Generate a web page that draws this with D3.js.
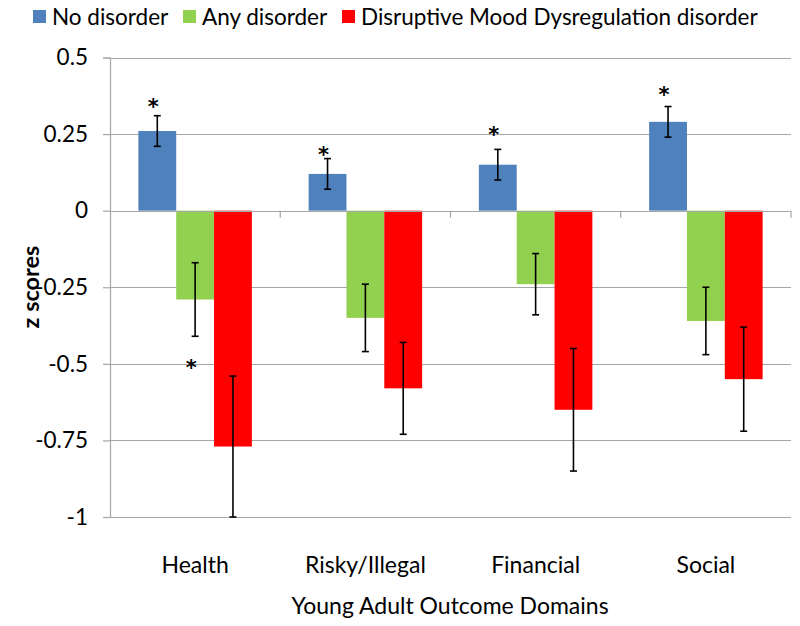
<!DOCTYPE html>
<html>
<head>
<meta charset="utf-8">
<script src="https://cdn.jsdelivr.net/npm/d3@7/dist/d3.min.js"></script>
<style>
  html, body { margin: 0; padding: 0; background: #fff; }
  svg { display: block; font-family: Lato, "Open Sans", sans-serif; }
</style>
</head>
<body>
<svg id="chart" width="800" height="626"></svg>
<script>
// ---------- data ----------
const categories = ["Health", "Risky/Illegal", "Financial", "Social"];
const seriesNames = ["No disorder", "Any disorder", "Disruptive Mood Dysregulation disorder"];
const noDisorder  = [0.26, 0.12, 0.15, 0.29];
const anyDisorder = [-0.29, -0.35, -0.24, -0.36];
const dmdd        = [-0.77, -0.58, -0.65, -0.55];
const noDisorderErr  = [0.05, 0.05, 0.05, 0.05];
const anyDisorderErr = [0.12, 0.11, 0.10, 0.11];
const dmddErr        = [0.23, 0.15, 0.20, 0.17];
const yTicks = [0.5, 0.25, 0, -0.25, -0.5, -0.75, -1];
const yTickLabels = ["0.5", "0.25", "0", "-0.25", "-0.5", "-0.75", "-1"];
// significance markers: [category, series index, y value where drawn]
const asterisks = [
  ["Health", 0, 0.356],
  ["Risky/Illegal", 0, 0.198],
  ["Financial", 0, 0.263],
  ["Social", 0, 0.394],
  ["Health", 1, -0.497]
];
const colors = ["#4F81BD", "#92D050", "#FF0000"];

// ---------- layout ----------
const svg = d3.select("#chart");
const pLeft = 110, pRight = 791, pTop = 57.5, pBottom = 517;

const y = d3.scaleLinear().domain([-1, 0.5]).range([pBottom, pTop]);
const x0 = d3.scaleBand().domain(categories).range([pLeft, pRight])
  .paddingInner(1/3).paddingOuter(1/6);
const x1 = d3.scaleBand().domain(d3.range(3)).range([0, x0.bandwidth()]);

const values = [noDisorder, anyDisorder, dmdd];
const errs = [noDisorderErr, anyDisorderErr, dmddErr];
const rows = [];
categories.forEach((c, i) => {
  values.forEach((s, k) => rows.push({cat: c, k: k, v: s[i], e: errs[k][i]}));
});

// gridlines
svg.append("g").selectAll("line").data(yTicks).join("line")
  .attr("x1", pLeft).attr("x2", pRight)
  .attr("y1", d => Math.round(y(d)) + 0.5).attr("y2", d => Math.round(y(d)) + 0.5)
  .attr("stroke", "#A6A6A6").attr("stroke-width", 1.2);

// y axis
const yAxis = d3.axisLeft(y).tickValues(yTicks)
  .tickFormat((d, i) => yTickLabels[i]).tickSize(7).tickPadding(15);
const gy = svg.append("g").attr("transform", `translate(${pLeft},0)`).call(yAxis);
gy.select(".domain").attr("stroke", "#A6A6A6").attr("stroke-width", 1.2);
gy.selectAll(".tick line").attr("stroke", "#A6A6A6").attr("stroke-width", 1.2);
gy.selectAll(".tick text").attr("font-size", 22.5).attr("fill", "#000")
  .attr("font-family", "Lato, sans-serif");

// bars
svg.append("g").selectAll("rect").data(rows).join("rect")
  .attr("x", d => x0(d.cat) + x1(d.k))
  .attr("width", x1.bandwidth())
  .attr("y", d => y(Math.max(0, d.v)))
  .attr("height", d => Math.abs(y(d.v) - y(0)))
  .attr("fill", d => colors[d.k]);

// x axis at zero (with category boundary ticks)
const boundaries = categories.map(c => x0(c) - x0.step() * x0.paddingInner() / 2)
  .concat([pRight]);
svg.append("line").attr("x1", pLeft).attr("x2", pRight)
  .attr("y1", Math.round(y(0)) + 0.5).attr("y2", Math.round(y(0)) + 0.5)
  .attr("stroke", "#A6A6A6").attr("stroke-width", 1.2);
svg.append("g").selectAll("line").data(boundaries.slice(1)).join("line")
  .attr("x1", d => d).attr("x2", d => d)
  .attr("y1", y(0)).attr("y2", y(0) + 7)
  .attr("stroke", "#A6A6A6").attr("stroke-width", 1.2);

// error bars
const eg = svg.append("g").attr("stroke", "#000").attr("stroke-width", 1.6);
rows.forEach(d => {
  const cx = x0(d.cat) + x1(d.k) + x1.bandwidth() / 2;
  const y1v = y(d.v + d.e), y2v = y(d.v - d.e);
  eg.append("line").attr("x1", cx).attr("x2", cx).attr("y1", y1v).attr("y2", y2v);
  eg.append("line").attr("x1", cx - 3.5).attr("x2", cx + 3.5).attr("y1", y1v).attr("y2", y1v);
  eg.append("line").attr("x1", cx - 3.5).attr("x2", cx + 3.5).attr("y1", y2v).attr("y2", y2v);
});

// asterisks
svg.append("g").selectAll("text").data(asterisks).join("text")
  .attr("x", d => x0(d[0]) + x1(d[1]) + x1.bandwidth() / 2 - 4)
  .attr("y", d => y(d[2]) + 12)
  .attr("text-anchor", "middle")
  .attr("font-size", 21).attr("font-weight", "bold")
  .attr("font-family", "'DejaVu Sans', sans-serif")
  .text("*");

// category labels
svg.append("g").selectAll("text").data(categories).join("text")
  .attr("x", d => x0(d) + x0.bandwidth() / 2)
  .attr("y", 573)
  .attr("text-anchor", "middle").attr("font-size", 23)
  .text(d => d);

// axis titles
svg.append("text").attr("x", 450).attr("y", 614).attr("text-anchor", "middle")
  .attr("font-size", 23).text("Young Adult Outcome Domains");
svg.append("text").attr("transform", "translate(39,287) rotate(-90)")
  .attr("text-anchor", "middle").attr("font-size", 23.5).attr("font-weight", "bold")
  .text("z scores");

// legend
const legendX = [33, 183, 342];
const lg = svg.append("g");
seriesNames.forEach((n, k) => {
  lg.append("rect").attr("x", legendX[k]).attr("y", 10).attr("width", 13).attr("height", 13)
    .attr("fill", colors[k]);
  lg.append("text").attr("x", legendX[k] + 19).attr("y", 24.5).attr("font-size", 22.5)
    .text(n);
});
</script>
</body>
</html>
